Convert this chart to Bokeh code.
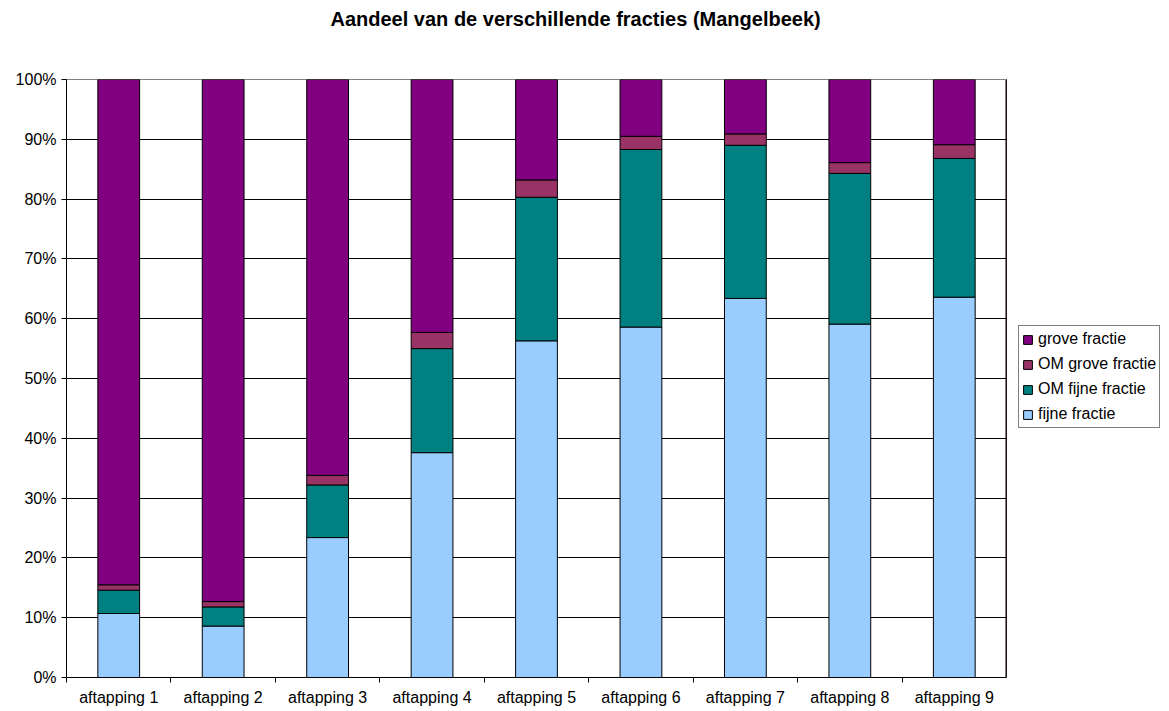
from bokeh.plotting import figure
from bokeh.layouts import row
from bokeh.models import (Range1d, FixedTicker, ColumnDataSource, Legend, LegendItem,
                          PrintfTickFormatter, Title)
from bokeh.embed import file_html
from bokeh.resources import INLINE

# Share of each fraction per sampling round, in percent
categories = ["aftapping 1", "aftapping 2", "aftapping 3", "aftapping 4", "aftapping 5",
              "aftapping 6", "aftapping 7", "aftapping 8", "aftapping 9"]
fijne_fractie = [10.7, 8.6, 23.4, 37.6, 56.3, 58.6, 63.4, 59.1, 63.6]
om_fijne_fractie = [3.9, 3.2, 8.8, 17.4, 24.0, 29.7, 25.6, 25.2, 23.2]
om_grove_fractie = [0.9, 0.9, 1.6, 2.7, 2.9, 2.2, 1.9, 1.8, 2.3]
grove_fractie = [84.5, 87.3, 66.2, 42.3, 16.8, 9.5, 9.1, 13.9, 10.9]

series = ["fijne fractie", "OM fijne fractie", "OM grove fractie", "grove fractie"]
colors = ["#99CCFF", "#008080", "#993366", "#800080"]

FONT = "Liberation Sans"

x_pos = [i + 0.5 for i in range(len(categories))]
source = ColumnDataSource(dict(
    x=x_pos,
    **{"fijne fractie": fijne_fractie,
       "OM fijne fractie": om_fijne_fractie,
       "OM grove fractie": om_grove_fractie,
       "grove fractie": grove_fractie},
))

p = figure(width=1006, height=711, output_backend="svg", toolbar_location=None,
           title=None,
           x_range=Range1d(0, len(categories)), y_range=Range1d(0, 100),
           min_border_left=66, min_border_right=0, min_border_top=0,
           min_border_bottom=34)
# spacer between the chart and its heading, then the heading itself
p.add_layout(Title(text=" ", text_font=FONT, text_font_size="30px"), "above")
p.add_layout(Title(text="Aandeel van de verschillende fracties (Mangelbeek)",
                   align="left", offset=264, text_font=FONT, text_font_size="20px",
                   text_font_style="bold", text_color="black"), "above")

renderers = p.vbar_stack(series, x="x", width=0.4, source=source,
                         fill_color=colors, line_color="black", line_width=1)

# x axis: labels at bar centres, tick marks at category boundaries
p.xaxis.ticker = FixedTicker(ticks=x_pos, minor_ticks=list(range(len(categories) + 1)))
p.xaxis.major_label_overrides = {x: c for x, c in zip(x_pos, categories)}
p.xaxis.major_tick_out = 0
p.xaxis.major_tick_in = 0
p.xaxis.minor_tick_out = 5
p.xaxis.minor_tick_in = 0
p.xaxis.minor_tick_line_color = "black"
p.xaxis.axis_line_color = "black"
p.xaxis.major_label_text_font = FONT
p.xaxis.major_label_text_font_size = "16px"
p.xaxis.major_label_text_color = "black"
p.xaxis.major_label_standoff = 6

p.yaxis.ticker = FixedTicker(ticks=list(range(0, 101, 10)), minor_ticks=[])
p.yaxis.formatter = PrintfTickFormatter(format="%d%%")
p.yaxis.major_tick_out = 5
p.yaxis.major_tick_in = 0
p.yaxis.major_tick_line_color = "black"
p.yaxis.axis_line_color = "black"
p.yaxis.major_label_text_font = FONT
p.yaxis.major_label_text_font_size = "16px"
p.yaxis.major_label_text_color = "black"
p.yaxis.major_label_standoff = 5

p.xgrid.grid_line_color = None
p.ygrid.grid_line_color = "black"
p.ygrid.grid_line_width = 1
p.outline_line_color = "#808080"
p.background_fill_color = "white"
p.border_fill_color = "white"

# legend panel to the right of the chart
lg = figure(width=163, height=711, output_backend="svg", toolbar_location=None,
            x_range=Range1d(0, 1), y_range=Range1d(0, 1),
            min_border_left=0, min_border_right=0, min_border_top=0,
            min_border_bottom=0)
lg.axis.visible = False
lg.grid.grid_line_color = None
lg.outline_line_color = None
lg.background_fill_color = "white"
lg.border_fill_color = "white"

# swatch renderers for the legend keys, kept outside the visible range
swatches = {}
for s, c in zip(series, colors):
    swatches[s] = lg.vbar(x=[-5], top=[1], width=0.1, fill_color=c, line_color="black")

legend = Legend(
    items=[LegendItem(label=s, renderers=[swatches[s]]) for s in reversed(series)],
    location=(12, 249),
    label_text_font=FONT, label_text_font_size="16px", label_text_color="black",
    glyph_width=11, glyph_height=11, label_height=20, spacing=5,
    padding=3, margin=0, label_standoff=5,
    border_line_color="black", border_line_width=1,
    background_fill_color="white", background_fill_alpha=1,
)
lg.add_layout(legend)

layout = row(p, lg, spacing=0)
open("out.html", "w").write(file_html(layout, INLINE))
